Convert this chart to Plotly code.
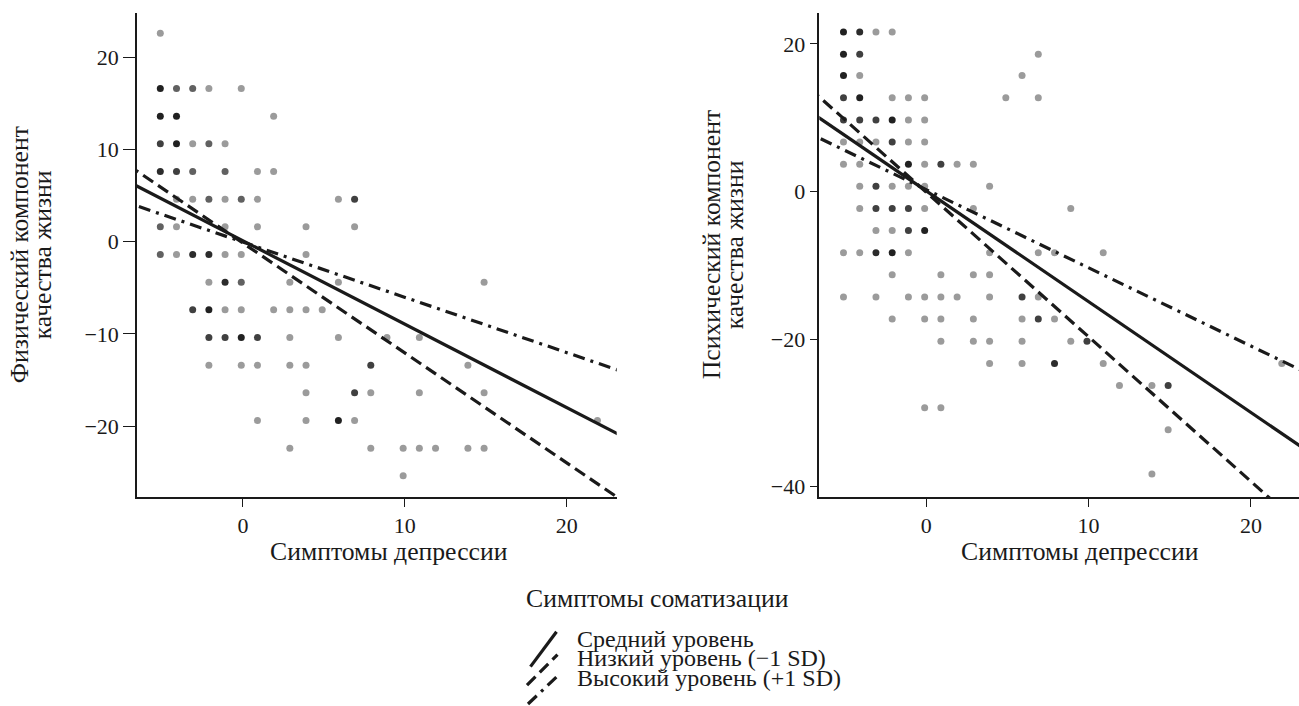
import numpy as np
import plotly.graph_objects as go

W, H = 1299, 706

# ---------------- data ----------------
# Left panel: physical component vs depression symptoms (centered values)
left_x = [-5.1,
          -5.1, -4.1, -3.1, -2.1, -0.1,
          -5.1, -4.1, 1.9,
          -5.1, -4.1, -3.1, -2.1, -1.1,
          -5.1, -4.1, -3.1, -1.1, 0.9, 1.9,
          -4.1, -3.1, -2.1, -1.1, -0.1, 0.9, 5.9, 6.9,
          -5.1, -4.1, -1.1, 0.9, 3.9, 6.9,
          -5.1, -4.1, -3.1, -2.1, -1.1, -0.1, 3.9,
          -2.1, -1.1, -0.1, 2.9, 5.9, 14.9,
          -3.1, -2.1, -1.1, -0.1, 1.9, 2.9, 3.9, 4.9,
          -2.1, -1.1, -0.1, 0.9, 2.9, 5.9, 8.9, 10.9,
          -2.1, -0.1, 0.9, 2.9, 3.9, 7.9, 13.9,
          3.9, 6.9, 7.9, 10.9, 14.9,
          0.9, 3.9, 5.9, 6.9, 21.9,
          2.9, 7.9, 9.9, 10.9, 11.9, 13.9, 14.9,
          9.9]
left_y = [22.6,
          16.6, 16.6, 16.6, 16.6, 16.6,
          13.6, 13.6, 13.6,
          10.6, 10.6, 10.6, 10.6, 10.6,
          7.6, 7.6, 7.6, 7.6, 7.6, 7.6,
          4.6, 4.6, 4.6, 4.6, 4.6, 4.6, 4.6, 4.6,
          1.6, 1.6, 1.6, 1.6, 1.6, 1.6,
          -1.4, -1.4, -1.4, -1.4, -1.4, -1.4, -1.4,
          -4.4, -4.4, -4.4, -4.4, -4.4, -4.4,
          -7.4, -7.4, -7.4, -7.4, -7.4, -7.4, -7.4, -7.4,
          -10.4, -10.4, -10.4, -10.4, -10.4, -10.4, -10.4, -10.4,
          -13.4, -13.4, -13.4, -13.4, -13.4, -13.4, -13.4,
          -16.4, -16.4, -16.4, -16.4, -16.4,
          -19.4, -19.4, -19.4, -19.4, -19.4,
          -22.4, -22.4, -22.4, -22.4, -22.4, -22.4, -22.4,
          -25.4]
left_n = [1,
          5, 2, 2, 1, 1,
          5, 5, 1,
          3, 5, 1, 2, 1,
          4, 3, 2, 2, 1, 1,
          1, 1, 2, 1, 2, 1, 1, 3,
          2, 1, 1, 1, 1, 1,
          2, 1, 4, 4, 1, 1, 1,
          1, 4, 2, 1, 1, 1,
          3, 5, 1, 1, 1, 1, 1, 1,
          3, 3, 5, 3, 1, 1, 1, 1,
          1, 1, 1, 1, 1, 3, 1,
          1, 3, 1, 1, 1,
          1, 1, 5, 1, 1,
          1, 1, 1, 1, 1, 1, 1,
          1]

# Right panel: mental component vs depression symptoms
right_x = [-5.1, -4.1, -3.1, -2.1,
           -5.1, -4.1, 6.9,
           -5.1, -4.1, 5.9,
           -5.1, -4.1, -2.1, -1.1, -0.1, 4.9, 6.9,
           -5.1, -4.1, -3.1, -2.1, -1.1, -0.1,
           -5.1, -4.1, -3.1, -2.1, -1.1, -0.1,
           -5.1, -4.1, -1.1, -0.1, 0.9, 1.9, 2.9,
           -4.1, -3.1, -2.1, -1.1, -0.1, 3.9,
           -4.1, -3.1, -2.1, -1.1, -0.1, 2.9, 8.9,
           -3.1, -2.1, -1.1, -0.1,
           -5.1, -4.1, -3.1, -2.1, -1.1, 3.9, 6.9, 7.9, 10.9,
           -2.1, 0.9, 2.9, 3.9,
           -5.1, -3.1, -1.1, -0.1, 0.9, 1.9, 3.9, 5.9, 6.9,
           -2.1, -0.1, 0.9, 2.9, 5.9, 6.9, 7.9,
           0.9, 2.9, 3.9, 5.9, 8.9, 9.9,
           3.9, 5.9, 7.9, 10.9, 21.9,
           11.9, 13.9, 14.9,
           -0.1, 0.9,
           14.9,
           13.9]
right_y = [21.6, 21.6, 21.6, 21.6,
           18.6, 18.6, 18.6,
           15.7, 15.7, 15.7,
           12.7, 12.7, 12.7, 12.7, 12.7, 12.7, 12.7,
           9.7, 9.7, 9.7, 9.7, 9.7, 9.7,
           6.7, 6.7, 6.7, 6.7, 6.7, 6.7,
           3.7, 3.7, 3.7, 3.7, 3.7, 3.7, 3.7,
           0.7, 0.7, 0.7, 0.7, 0.7, 0.7,
           -2.3, -2.3, -2.3, -2.3, -2.3, -2.3, -2.3,
           -5.3, -5.3, -5.3, -5.3,
           -8.3, -8.3, -8.3, -8.3, -8.3, -8.3, -8.3, -8.3, -8.3,
           -11.3, -11.3, -11.3, -11.3,
           -14.3, -14.3, -14.3, -14.3, -14.3, -14.3, -14.3, -14.3, -14.3,
           -17.3, -17.3, -17.3, -17.3, -17.3, -17.3, -17.3,
           -20.3, -20.3, -20.3, -20.3, -20.3, -20.3,
           -23.3, -23.3, -23.3, -23.3, -23.3,
           -26.3, -26.3, -26.3,
           -29.3, -29.3,
           -32.3,
           -38.3]
right_n = [5, 4, 1, 1,
           5, 3, 1,
           5, 1, 1,
           3, 5, 1, 1, 1, 1, 1,
           3, 3, 3, 5, 1, 1,
           1, 1, 1, 3, 1, 1,
           1, 1, 5, 1, 3, 1, 1,
           1, 3, 1, 1, 1, 1,
           1, 3, 3, 3, 1, 1, 1,
           1, 1, 3, 5,
           1, 1, 4, 5, 1, 1, 1, 1, 1,
           1, 1, 1, 1,
           1, 1, 1, 1, 1, 1, 1, 3, 1,
           1, 1, 1, 1, 1, 3, 1,
           1, 1, 1, 1, 1, 3,
           1, 1, 4, 1, 1,
           1, 1, 3,
           1, 1,
           1,
           1]

# Simple slopes: (intercept, slope) for mean, low (-1 SD), high (+1 SD) somatization
series_names = ["Средний уровень", "Низкий уровень (−1 SD)", "Высокий уровень (+1 SD)"]
series_dash = ["solid", "12px,6px", "12px,6px,3px,6px"]
left_b0 = [0.1, -0.15, -0.05]
left_b1 = [-0.905, -1.192, -0.599]
right_b0 = [0.07, -0.1, 0.25]
right_b1 = [-1.501, -1.96, -1.06]

left_yticks = [20, 10, 0, -10, -20]
right_yticks = [20, 0, -20, -40]
xticks = [0, 10, 20]

x_title = "Симптомы депрессии"
y_title_left = ["Физический компонент", "качества жизни"]
y_title_right = ["Психический компонент", "качества жизни"]
moderator_title = "Симптомы соматизации"

# ---------------- figure ----------------
FONT = "Liberation Serif, Times New Roman, serif"
INK = "#1a1a1a"
TICKFONT = dict(family=FONT, size=22, color=INK)
TFONT = dict(family=FONT, size=25.7, color=INK)
LFONT = dict(family=FONT, size=24, color=INK)


def px_x(p):
    return p / W


def px_y(p):
    return 1 - p / H


def alpha(n):
    return [1 - (1 - 0.42) ** k for k in n]


fig = go.Figure()

fig.add_trace(go.Scatter(x=left_x, y=left_y, mode="markers", xaxis="x", yaxis="y",
                         marker=dict(size=7, color="#111111", opacity=alpha(left_n), line=dict(width=0)),
                         showlegend=False, hoverinfo="skip"))
fig.add_trace(go.Scatter(x=right_x, y=right_y, mode="markers", xaxis="x2", yaxis="y2",
                         marker=dict(size=7, color="#111111", opacity=alpha(right_n), line=dict(width=0)),
                         showlegend=False, hoverinfo="skip"))

xs = np.array([-8.0, 25.0])
for i in range(3):
    fig.add_trace(go.Scatter(x=xs, y=left_b0[i] + left_b1[i] * xs, mode="lines", xaxis="x", yaxis="y",
                             line=dict(color=INK, width=3.2, dash=series_dash[i]),
                             showlegend=False, name=series_names[i]))
    fig.add_trace(go.Scatter(x=xs, y=right_b0[i] + right_b1[i] * xs, mode="lines", xaxis="x2", yaxis="y2",
                             line=dict(color=INK, width=3.2, dash=series_dash[i]),
                             showlegend=False, name=series_names[i]))

axis_common = dict(showline=True, linecolor=INK, linewidth=1.5, ticks="outside",
                   tickwidth=1.3, tickcolor=INK, showgrid=False, zeroline=False,
                   tickfont=TICKFONT, mirror=False)

fig.update_layout(
    width=W, height=H,
    margin=dict(l=0, r=0, t=0, b=0),
    paper_bgcolor="white", plot_bgcolor="white",
    xaxis=dict(domain=[px_x(137), px_x(616.7)], range=[-6.54, 23.09], anchor="y",
               tickvals=xticks, ticklen=8, **axis_common),
    yaxis=dict(domain=[px_y(498.3), px_y(13.3)], range=[-27.68, 24.76], anchor="x",
               tickvals=left_yticks, ticklen=12, **axis_common),
    xaxis2=dict(domain=[px_x(819.3), 1.0], range=[-6.59, 22.96], anchor="y2",
                tickvals=xticks, ticklen=8, **axis_common),
    yaxis2=dict(domain=[px_y(498.5), px_y(13.3)], range=[-41.42, 24.15], anchor="x2",
                tickvals=right_yticks, ticklen=8, **axis_common),
)


def note(text, x, y, font, xanchor="center", angle=0):
    return dict(text=text, x=px_x(x), y=px_y(y), xref="paper", yref="paper", showarrow=False,
                xanchor=xanchor, yanchor="middle", textangle=angle, font=font)


ann = [
    note(x_title, 389, 553, TFONT),
    note(x_title, 1080, 553, TFONT),
    note(y_title_left[0], 19, 256, TFONT, angle=-90),
    note(y_title_left[1], 42, 256, TFONT, angle=-90),
    note(y_title_right[0], 711, 245, TFONT, angle=-90),
    note(y_title_right[1], 734, 245, TFONT, angle=-90),
    note(moderator_title, 657, 600, TFONT),
]

legend_text_y = [640.5, 660.2, 679.9]
for i in range(3):
    ann.append(note(series_names[i], 575, legend_text_y[i], LFONT, xanchor="left"))

glyphs = [((530.5, 668.5), (556.5, 633.5)),
          ((527.0, 687.0), (557.5, 656.5)),
          ((528.0, 706.0), (557.0, 678.5))]
shapes = []
for i, ((x0, y0), (x1, y1)) in enumerate(glyphs):
    shapes.append(dict(type="line", xref="paper", yref="paper", x0=px_x(x0), y0=px_y(y0),
                       x1=px_x(x1), y1=px_y(y1),
                       line=dict(color=INK, width=3.2, dash=series_dash[i])))

fig.update_layout(annotations=ann, shapes=shapes)

fig.write_html("out.html", config={"displayModeBar": False},
               post_script="document.body.style.margin='0';document.body.style.overflow='hidden';")
